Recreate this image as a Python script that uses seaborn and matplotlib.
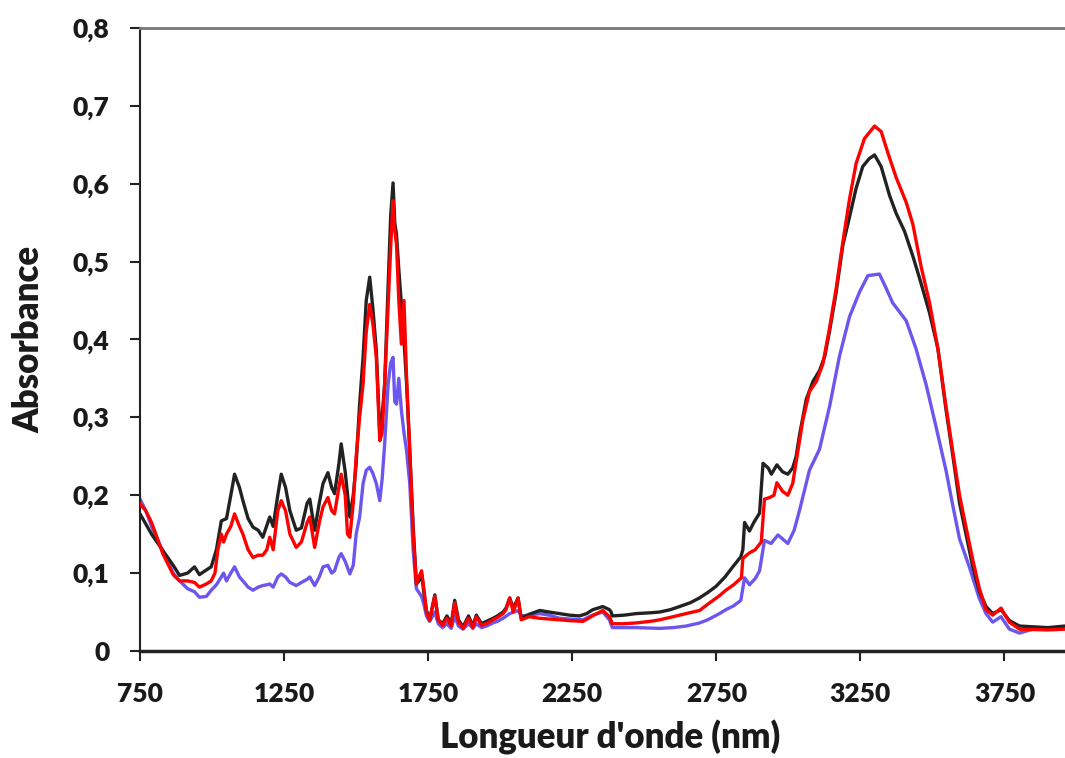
import numpy as np
import pandas as pd
import matplotlib
matplotlib.use("Agg")
import matplotlib.pyplot as plt
import matplotlib.ticker as mticker
import seaborn as sns

# ---- data ----
black_x = [750, 790, 829, 865, 887, 915, 939, 956, 980, 997, 1015, 1032, 1050, 1065, 1078, 1095, 1107, 1125,
           1142, 1160, 1176, 1200, 1212, 1228, 1240, 1255, 1270, 1292, 1310, 1330, 1339, 1356, 1372, 1385,
           1402, 1415, 1425, 1440, 1448, 1462, 1478, 1490, 1500, 1512, 1524, 1535, 1547, 1558, 1570, 1582,
           1590, 1599, 1611, 1620, 1628, 1634, 1640, 1648, 1657, 1666, 1675, 1686, 1698, 1709, 1718, 1727,
           1735, 1744, 1755, 1773, 1785, 1800, 1815, 1830, 1842, 1855, 1871, 1890, 1905, 1917, 1935, 1952,
           1975, 1990, 2010, 2020, 2033, 2045, 2062, 2073, 2100, 2137, 2170, 2206, 2240, 2275, 2300, 2321,
           2356, 2379, 2385, 2389, 2430, 2472, 2520, 2553, 2590, 2622, 2660, 2691, 2720, 2749, 2780, 2807,
           2835, 2842, 2848, 2865, 2880, 2900, 2912, 2930, 2941, 2960, 2980, 2998, 3015, 3027, 3039, 3062,
           3085, 3108, 3126, 3143, 3166, 3189, 3212, 3235, 3258, 3280, 3299, 3322, 3351, 3374, 3403, 3432,
           3455, 3490, 3519, 3547, 3571, 3594, 3617, 3640, 3663, 3686, 3709, 3738, 3767, 3802, 3848, 3900, 3960]
black_y = [0.176, 0.15, 0.129, 0.11, 0.097, 0.1, 0.108, 0.098, 0.104, 0.108, 0.13, 0.167, 0.17, 0.2, 0.227,
           0.21, 0.193, 0.17, 0.159, 0.155, 0.146, 0.172, 0.16, 0.2, 0.227, 0.21, 0.18, 0.155, 0.158, 0.19,
           0.195, 0.155, 0.19, 0.215, 0.229, 0.21, 0.202, 0.24, 0.266, 0.23, 0.172, 0.2, 0.24, 0.317, 0.377,
           0.45, 0.48, 0.44, 0.386, 0.279, 0.3, 0.343, 0.47, 0.56, 0.601, 0.55, 0.535, 0.49, 0.445, 0.4, 0.343,
           0.257, 0.159, 0.086, 0.09, 0.099, 0.075, 0.052, 0.04, 0.072, 0.04, 0.035, 0.045, 0.035, 0.065, 0.04,
           0.031, 0.045, 0.032, 0.046, 0.035, 0.038, 0.042, 0.045, 0.05, 0.055, 0.068, 0.055, 0.068, 0.042,
           0.047, 0.052, 0.05, 0.048, 0.046, 0.045, 0.048, 0.053, 0.057, 0.053, 0.05, 0.045, 0.046, 0.048,
           0.049, 0.05, 0.053, 0.057, 0.062, 0.068, 0.075, 0.083, 0.095, 0.108, 0.121, 0.13, 0.165, 0.154,
           0.165, 0.177, 0.241, 0.235, 0.227, 0.239, 0.23, 0.227, 0.235, 0.25, 0.278, 0.323, 0.346, 0.36,
           0.378, 0.411, 0.461, 0.521, 0.557, 0.594, 0.622, 0.632, 0.637, 0.622, 0.585, 0.562, 0.539, 0.507,
           0.479, 0.434, 0.388, 0.31, 0.25, 0.19, 0.149, 0.108, 0.076, 0.057, 0.048, 0.053, 0.039, 0.032,
           0.031, 0.03, 0.032]

red_x = [750, 770, 790, 829, 865, 887, 915, 939, 956, 980, 997, 1010, 1020, 1032, 1040, 1050, 1065, 1078,
         1095, 1107, 1125, 1142, 1160, 1176, 1190, 1200, 1212, 1228, 1240, 1255, 1270, 1292, 1310, 1330, 1339,
         1356, 1372, 1385, 1402, 1415, 1425, 1440, 1448, 1462, 1470, 1478, 1490, 1500, 1512, 1524, 1535, 1547,
         1558, 1570, 1582, 1590, 1599, 1611, 1620, 1628, 1634, 1640, 1648, 1657, 1666, 1675, 1686, 1698, 1709,
         1718, 1727, 1735, 1744, 1755, 1773, 1785, 1800, 1815, 1830, 1842, 1855, 1871, 1890, 1905, 1917, 1935,
         1952, 1975, 1990, 2010, 2020, 2033, 2045, 2062, 2073, 2100, 2137, 2170, 2206, 2240, 2287, 2320, 2356,
         2379, 2389, 2430, 2472, 2520, 2553, 2600, 2645, 2692, 2720, 2761, 2783, 2810, 2837, 2842, 2865, 2885,
         2906, 2917, 2935, 2950, 2960, 2980, 2998, 3015, 3030, 3050, 3073, 3097, 3120, 3143, 3166, 3189, 3212,
         3235, 3264, 3299, 3322, 3345, 3374, 3409, 3432, 3461, 3490, 3519, 3547, 3571, 3594, 3617, 3640, 3663,
         3686, 3709, 3738, 3767, 3802, 3900, 3960]
red_y = [0.189, 0.18, 0.165, 0.125, 0.098, 0.09, 0.09, 0.088, 0.082, 0.086, 0.09, 0.1, 0.13, 0.15, 0.14,
         0.15, 0.16, 0.176, 0.16, 0.15, 0.13, 0.12, 0.123, 0.123, 0.13, 0.146, 0.13, 0.18, 0.193, 0.18, 0.15,
         0.133, 0.14, 0.165, 0.172, 0.133, 0.165, 0.185, 0.197, 0.18, 0.176, 0.21, 0.227, 0.2, 0.15, 0.146,
         0.19, 0.25, 0.3, 0.343, 0.41, 0.445, 0.42, 0.377, 0.27, 0.28, 0.343, 0.445, 0.52, 0.578, 0.54, 0.522,
         0.45, 0.394, 0.45, 0.351, 0.257, 0.15, 0.086, 0.095, 0.103, 0.08, 0.05, 0.04, 0.07, 0.04, 0.033,
         0.042, 0.032, 0.062, 0.037, 0.029, 0.042, 0.03, 0.044, 0.033, 0.035, 0.04, 0.043, 0.048, 0.053, 0.068,
         0.05, 0.068, 0.04, 0.044, 0.042, 0.041, 0.04, 0.039, 0.038, 0.045, 0.052, 0.044, 0.035, 0.035, 0.036,
         0.038, 0.04, 0.044, 0.048, 0.052, 0.06, 0.071, 0.078, 0.085, 0.094, 0.119, 0.126, 0.13, 0.14, 0.195,
         0.197, 0.2, 0.216, 0.205, 0.2, 0.215, 0.25, 0.296, 0.333, 0.346, 0.369, 0.415, 0.466, 0.525, 0.58,
         0.626, 0.658, 0.674, 0.667, 0.64, 0.608, 0.576, 0.548, 0.493, 0.447, 0.388, 0.314, 0.255, 0.2, 0.158,
         0.117, 0.08, 0.053, 0.046, 0.055, 0.037, 0.028, 0.027, 0.028]

blue_x = [750, 770, 790, 829, 865, 887, 915, 939, 956, 980, 997, 1015, 1032, 1040, 1050, 1065, 1078, 1095,
          1107, 1125, 1142, 1160, 1176, 1190, 1200, 1212, 1228, 1240, 1255, 1270, 1292, 1310, 1330, 1339, 1356,
          1372, 1385, 1402, 1415, 1425, 1440, 1448, 1462, 1478, 1490, 1500, 1512, 1524, 1535, 1547, 1558, 1570,
          1582, 1590, 1599, 1611, 1620, 1628, 1634, 1640, 1648, 1657, 1666, 1675, 1686, 1698, 1709, 1718, 1727,
          1735, 1744, 1755, 1773, 1785, 1800, 1815, 1830, 1842, 1855, 1871, 1890, 1905, 1917, 1935, 1952, 1975,
          1990, 2010, 2033, 2062, 2073, 2100, 2137, 2170, 2206, 2240, 2287, 2320, 2356, 2379, 2389, 2430, 2472,
          2553, 2600, 2645, 2692, 2720, 2761, 2783, 2810, 2835, 2848, 2865, 2885, 2900, 2917, 2940, 2964, 2998,
          3020, 3039, 3073, 3108, 3143, 3177, 3212, 3247, 3276, 3316, 3339, 3362, 3409, 3443, 3478, 3513, 3547,
          3571, 3594, 3628, 3663, 3686, 3709, 3738, 3767, 3802, 3848, 3960]
blue_y = [0.195, 0.18, 0.16, 0.128, 0.1, 0.09, 0.08, 0.076, 0.069, 0.07, 0.078, 0.085, 0.095, 0.1, 0.09, 0.1,
          0.108, 0.095, 0.09, 0.082, 0.078, 0.082, 0.084, 0.085, 0.086, 0.082, 0.095, 0.099, 0.095, 0.088,
          0.084, 0.088, 0.092, 0.095, 0.084, 0.095, 0.108, 0.11, 0.1, 0.103, 0.12, 0.125, 0.115, 0.099, 0.11,
          0.15, 0.172, 0.215, 0.232, 0.236, 0.228, 0.215, 0.193, 0.22, 0.266, 0.343, 0.37, 0.377, 0.32, 0.317,
          0.35, 0.309, 0.28, 0.257, 0.215, 0.129, 0.08, 0.075, 0.07, 0.06, 0.045, 0.038, 0.05, 0.035, 0.03,
          0.035, 0.029, 0.045, 0.032, 0.028, 0.035, 0.029, 0.035, 0.03, 0.032, 0.036, 0.038, 0.042, 0.048,
          0.052, 0.045, 0.046, 0.048, 0.046, 0.042, 0.041, 0.04, 0.046, 0.05, 0.04, 0.03, 0.03, 0.03, 0.029,
          0.03, 0.032, 0.036, 0.04, 0.048, 0.053, 0.058, 0.065, 0.094, 0.085, 0.093, 0.103, 0.142, 0.138,
          0.149, 0.138, 0.155, 0.181, 0.232, 0.259, 0.314, 0.378, 0.429, 0.461, 0.482, 0.484, 0.466, 0.447,
          0.424, 0.388, 0.342, 0.287, 0.232, 0.186, 0.144, 0.108, 0.067, 0.048, 0.037, 0.044, 0.028, 0.023,
          0.028, 0.03]

x_ticks = [750, 1250, 1750, 2250, 2750, 3250, 3750]
y_ticks = [0, 0.1, 0.2, 0.3, 0.4, 0.5, 0.6, 0.7, 0.8]
x_label = "Longueur d'onde (nm)"
y_label = "Absorbance"

palette = {"noir": "#222222", "rouge": "#ff0000", "bleu": "#6b57ee"}

df = pd.concat([
    pd.DataFrame({"x": black_x, "y": black_y, "s": "noir"}),
    pd.DataFrame({"x": red_x, "y": red_y, "s": "rouge"}),
    pd.DataFrame({"x": blue_x, "y": blue_y, "s": "bleu"}),
], ignore_index=True)

sns.set_style("white")
plt.rcParams['font.family'] = ['Lato', 'DejaVu Sans']

fig = plt.figure(figsize=(10.65, 7.58), dpi=100)
ax = fig.add_axes([0.1315, 0.1412, 0.8685, 0.8219])

for name, z in [("bleu", 2), ("noir", 3), ("rouge", 4)]:
    sub = df[df["s"] == name]
    sns.lineplot(data=sub, x="x", y="y", color=palette[name], linewidth=2.4,
                 sort=False, estimator=None, ax=ax, zorder=z, legend=False)

ax.set_xlim(750, 3960)
ax.set_ylim(0, 0.8)
ax.set_xticks(x_ticks)
ax.set_yticks(y_ticks)
ax.yaxis.set_major_formatter(mticker.FuncFormatter(
    lambda v, p: "0" if abs(v) < 1e-9 else f"{v:.1f}".replace(".", ",")))
ax.xaxis.set_major_formatter(mticker.FuncFormatter(lambda v, p: f"{int(v)}"))

for lab in ax.get_xticklabels() + ax.get_yticklabels():
    lab.set_fontweight("heavy")
    lab.set_fontsize(19)
    lab.set_color("#1a1a1a")

ax.tick_params(axis="x", direction="out", length=7, width=1.5, color="#222222", pad=15, bottom=True)
ax.tick_params(axis="y", direction="out", length=7, width=1.5, color="#222222", pad=15, left=True)

ax.spines["right"].set_visible(False)
ax.spines["top"].set_color("#777777")
ax.spines["top"].set_linewidth(2)
ax.spines["left"].set_color("#222222")
ax.spines["left"].set_linewidth(1.5)
ax.spines["bottom"].set_color("#222222")
ax.spines["bottom"].set_linewidth(2.5)

ax.set_xlabel(x_label, fontsize=25, fontweight="heavy", color="#1a1a1a")
ax.set_ylabel(y_label, fontsize=25, fontweight="heavy", color="#1a1a1a")
ax.xaxis.set_label_coords(0.508, -0.11)
ax.yaxis.set_label_coords(-0.102, 0.5)
ax.grid(False)

fig.savefig("out.png", dpi=100)
